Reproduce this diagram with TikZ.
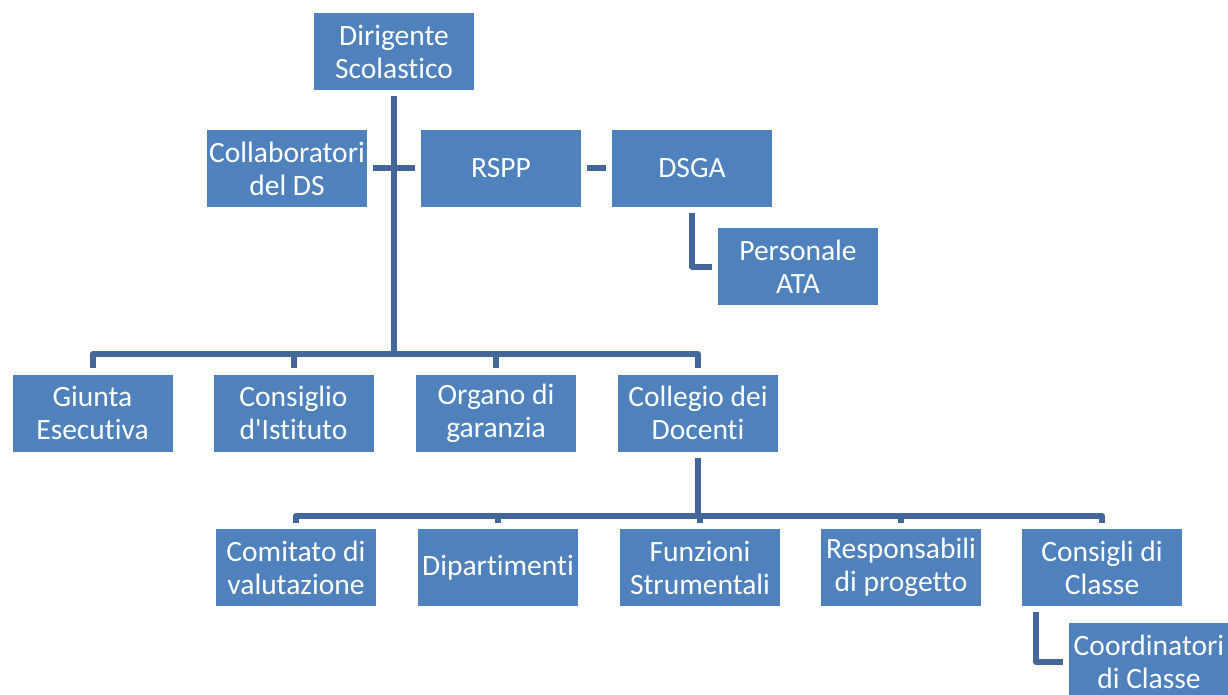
\documentclass[tikz,border=0pt]{standalone}
\usepackage{fontspec}
\setmainfont{Carlito}[Ligatures=CommonOff]
\begin{document}
\begin{tikzpicture}[x=1pt, y=-1pt,
        orgbox/.style={fill=boxblue, text=white, minimum width=160pt, minimum height=77pt,
            inner sep=0pt, align=center, font=\fontsize{29.5}{33}\selectfont},
        conn/.style={draw=lineblue, line width=6pt, line join=round}]
        \definecolor{boxblue}{RGB}{79,129,189}
        \definecolor{lineblue}{RGB}{66,103,152}
        \useasboundingbox (0,0) rectangle (1228,695);
        \node[orgbox] (ds) at (394,51.5) {Dirigente\\Scolastico};
        \node[orgbox] (collab) at (287,168.5) {Collaboratori\\del DS};
        \node[orgbox] (rspp) at (501,168.5) {RSPP};
        \node[orgbox] (dsga) at (692,168.5) {DSGA};
        \node[orgbox] (ata) at (798,266.5) {Personale\\ATA};
        \node[orgbox] (giunta) at (92.5,413) {Giunta\\Esecutiva};
        \node[orgbox] (istituto) at (293.5,413) {Consiglio\\d\textquotesingle Istituto};
        \node[orgbox] (garanzia) at (496,413) {Organo di\\garanzia};
        \node[orgbox] (collegio) at (698,413) {Collegio dei\\Docenti};
        \node[orgbox] (comitato) at (296,567.5) {Comitato di\\valutazione};
        \node[orgbox] (dipart) at (498,567.5) {Dipartimenti};
        \node[orgbox] (funzioni) at (700,567.5) {Funzioni\\Strumentali};
        \node[orgbox] (progetto) at (901,567.5) {Responsabili\\di progetto};
        \node[orgbox] (consigli) at (1102,567.5) {Consigli di\\Classe};
        \node[orgbox] (coord) at (1149,661.5) {Coordinatori\\di Classe};
        \coordinate (bus1) at (394,354);
        \coordinate (bus2) at (698,516);
        \draw[conn] ([yshift=-6pt]ds.south) -- (bus1);
        \draw[conn] ([xshift=6pt]collab.east) -- ([xshift=-6pt]rspp.west);
        \draw[conn] ([xshift=6pt]rspp.east) -- ([xshift=-6pt]dsga.west);
        \draw[conn] ([yshift=-6pt]dsga.south) |- ([xshift=-6pt]ata.west);
        \foreach \n in {giunta,istituto,garanzia,collegio}
            \draw[conn] ([yshift=6pt]\n.north) |- (bus1);
        \draw[conn] ([yshift=-6pt]collegio.south) -- (bus2);
        \foreach \n in {comitato,dipart,funzioni,progetto,consigli}
            \draw[conn] ([yshift=6pt]\n.north) |- (bus2);
        \draw[conn] ([xshift=14pt,yshift=-6pt]consigli.south west) |- ([xshift=-6pt]coord.west);
    \end{tikzpicture}
\end{document}
